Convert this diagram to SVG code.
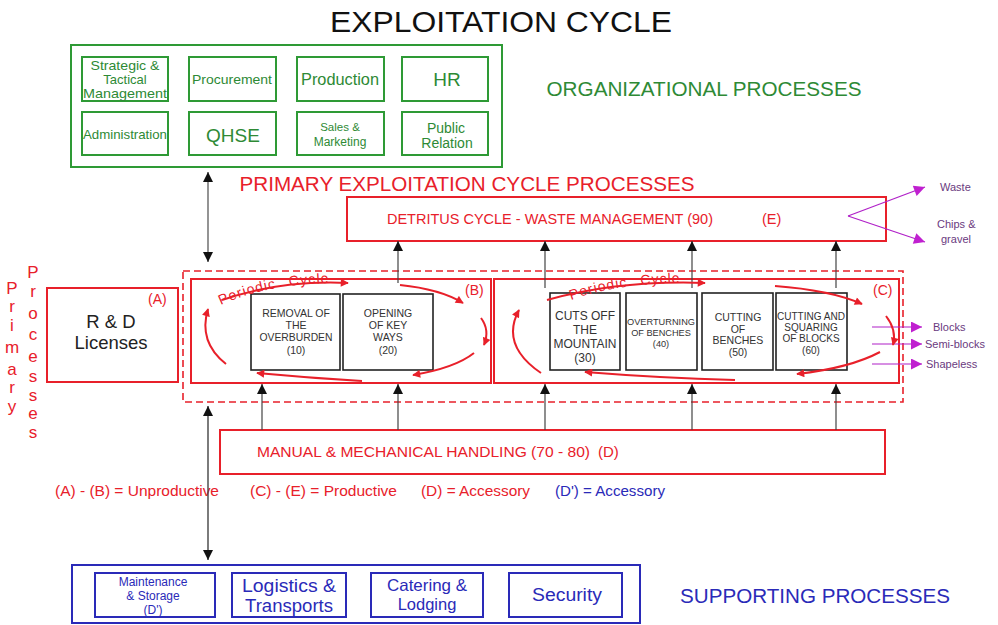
<svg xmlns="http://www.w3.org/2000/svg" width="998" height="625" viewBox="0 0 998 625">
<style>
  text { font-family: "Liberation Sans", Arial, sans-serif; }
  .g { fill: none; stroke: #2e9a35; stroke-width: 2; }
  .gt { fill: #2e8a35; text-anchor: middle; }
  .r { fill: none; stroke: #e8202a; stroke-width: 2; }
  .rd { fill: none; stroke: #e8202a; stroke-width: 1.6; stroke-dasharray: 7 4; }
  .rt { fill: #e8202a; }
  .b { fill: none; stroke: #2a2ab8; stroke-width: 2; }
  .bt { fill: #2a2ab8; text-anchor: middle; }
  .k { fill: #ffffff; stroke: #222222; stroke-width: 1.6; }
  .kt { fill: #333333; text-anchor: middle; }
  .ln { stroke: #444444; stroke-width: 1.2; fill: none; }
  .cyc { fill: none; stroke: #e8202a; stroke-width: 2; marker-end: url(#rh); }
  .mg { stroke: #b020c8; stroke-width: 1.2; fill: none; marker-end: url(#mh); }
  .mt { fill: #6a3a80; font-size: 11px; }
  .pc { font-size: 14px; fill: #e8202a; letter-spacing: 1px; word-spacing: 8px; }
</style>
<defs>
  <marker id="kh" viewBox="0 0 10 10" refX="10" refY="5" markerWidth="10" markerHeight="12" markerUnits="userSpaceOnUse" orient="auto">
    <path d="M0,0 L10,5 L0,10 Z" fill="#111111"/>
  </marker>
  <marker id="kh2" viewBox="0 0 10 10" refX="10" refY="5" markerWidth="10" markerHeight="12" markerUnits="userSpaceOnUse" orient="auto-start-reverse">
    <path d="M0,0 L10,5 L0,10 Z" fill="#111111"/>
  </marker>
  <marker id="rh" viewBox="0 0 10 10" refX="9" refY="5" markerWidth="9" markerHeight="8" markerUnits="userSpaceOnUse" orient="auto">
    <path d="M0,0 L10,5 L0,10 Z" fill="#e8202a"/>
  </marker>
  <marker id="mh" viewBox="0 0 10 10" refX="10" refY="5" markerWidth="14" markerHeight="11" markerUnits="userSpaceOnUse" orient="auto">
    <path d="M0,0 L10,5 L0,10 Z" fill="#c020d0"/>
  </marker>
  <path id="pcB" d="M221,305 Q275,280 360,283"/>
  <path id="pcC" d="M571,300 Q625,280 715,283"/>
</defs>

<rect width="998" height="625" fill="#ffffff"/>

<text x="501" y="32" font-size="30" text-anchor="middle" fill="#111111" textLength="342" lengthAdjust="spacingAndGlyphs">EXPLOITATION CYCLE</text>

<!-- organizational processes -->
<g id="organizational">
  <rect class="g" x="71" y="45" width="431" height="122"/>
  <text x="704" y="96" font-size="20" fill="#2e8a35" text-anchor="middle" textLength="315" lengthAdjust="spacingAndGlyphs">ORGANIZATIONAL PROCESSES</text>
  <g id="strategic"><rect class="g" x="82" y="57" width="86" height="44"/>
    <text class="gt" font-size="13" x="125" y="70" textLength="69" lengthAdjust="spacingAndGlyphs">Strategic &amp;</text>
    <text class="gt" font-size="13" x="125" y="84">Tactical</text>
    <text class="gt" font-size="13" x="125" y="98" textLength="84" lengthAdjust="spacingAndGlyphs">Management</text></g>
  <g id="procurement"><rect class="g" x="189" y="57" width="87" height="44"/>
    <text class="gt" font-size="13" x="232" y="84" textLength="80" lengthAdjust="spacingAndGlyphs">Procurement</text></g>
  <g id="production"><rect class="g" x="297" y="57" width="87" height="44"/>
    <text class="gt" font-size="16" x="340" y="85" textLength="78" lengthAdjust="spacingAndGlyphs">Production</text></g>
  <g id="hr"><rect class="g" x="402" y="57" width="86" height="44"/>
    <text class="gt" font-size="19" x="447" y="86">HR</text></g>
  <g id="administration"><rect class="g" x="82" y="112" width="86" height="43"/>
    <text class="gt" font-size="13" x="125" y="139" textLength="84" lengthAdjust="spacingAndGlyphs">Administration</text></g>
  <g id="qhse"><rect class="g" x="189" y="112" width="87" height="43"/>
    <text class="gt" font-size="19" x="233" y="142">QHSE</text></g>
  <g id="sales"><rect class="g" x="297" y="112" width="87" height="43"/>
    <text class="gt" font-size="11.5" x="340" y="131">Sales &amp;</text>
    <text class="gt" font-size="12" x="340" y="146">Marketing</text></g>
  <g id="public-relation"><rect class="g" x="402" y="112" width="86" height="43"/>
    <text class="gt" font-size="14" x="446" y="133">Public</text>
    <text class="gt" font-size="14" x="447" y="148">Relation</text></g>
</g>

<text x="467" y="191" font-size="20" class="rt" text-anchor="middle" textLength="455" lengthAdjust="spacingAndGlyphs">PRIMARY EXPLOITATION CYCLE PROCESSES</text>

<!-- vertical label -->
<g id="primary-processes" class="rt" font-size="17" text-anchor="middle">
  <text x="12" y="294">P</text><text x="12" y="312">r</text><text x="12" y="331">i</text>
  <text x="12" y="353">m</text><text x="12" y="375">a</text><text x="12" y="393">r</text><text x="12" y="412">y</text>
  <text x="33" y="278">P</text><text x="33" y="297">r</text><text x="33" y="319">o</text>
  <text x="33" y="340">c</text><text x="33" y="362">e</text><text x="33" y="382">s</text>
  <text x="33" y="401">s</text><text x="33" y="419">e</text><text x="33" y="438">s</text>
</g>

<!-- detritus cycle -->
<g id="detritus">
  <rect class="r" x="347" y="197" width="539" height="44"/>
  <text x="387" y="224" font-size="14.5" class="rt" textLength="326" lengthAdjust="spacingAndGlyphs">DETRITUS CYCLE - WASTE MANAGEMENT (90)</text>
  <text x="762" y="224" font-size="14.5" class="rt">(E)</text>
</g>

<!-- R & D -->
<g id="rd">
  <rect class="r" x="47" y="288" width="131" height="94"/>
  <text x="148" y="304" font-size="14" class="rt">(A)</text>
  <text x="111" y="328" font-size="18.5" fill="#222222" text-anchor="middle">R &amp; D</text>
  <text x="111" y="349" font-size="18.5" fill="#222222" text-anchor="middle">Licenses</text>
</g>

<!-- cycle frame -->
<rect class="rd" x="183" y="271" width="720" height="131"/>

<!-- unproductive cycle B -->
<g id="cycle-b">
  <rect class="r" x="191" y="279" width="300" height="104"/>
  <text x="465" y="295" font-size="14" class="rt">(B)</text>
</g>
<g id="removal"><rect class="k" x="251" y="294" width="89" height="76"/>
  <text class="kt" font-size="10.5" x="296" y="317">REMOVAL OF</text>
  <text class="kt" font-size="10.5" x="296" y="329">THE</text>
  <text class="kt" font-size="10.5" x="296" y="341" textLength="73" lengthAdjust="spacingAndGlyphs">OVERBURDEN</text>
  <text class="kt" font-size="10.5" x="296" y="354">(10)</text></g>
<g id="opening"><rect class="k" x="343" y="294" width="90" height="76"/>
  <text class="kt" font-size="10.5" x="388" y="317">OPENING</text>
  <text class="kt" font-size="10.5" x="388" y="329">OF KEY</text>
  <text class="kt" font-size="10.5" x="388" y="341">WAYS</text>
  <text class="kt" font-size="10.5" x="388" y="354">(20)</text></g>
<text class="pc"><textPath href="#pcB">Periodic Cycle</textPath></text>

<!-- productive cycle C -->
<g id="cycle-c">
  <rect class="r" x="494" y="279" width="405" height="104"/>
  <text x="873" y="295" font-size="14" class="rt">(C)</text>
</g>
<g id="cuts-off"><rect class="k" x="550" y="293" width="70" height="77"/>
  <text class="kt" font-size="12" x="585" y="320">CUTS OFF</text>
  <text class="kt" font-size="12" x="585" y="334">THE</text>
  <text class="kt" font-size="12" x="585" y="348" textLength="63" lengthAdjust="spacingAndGlyphs">MOUNTAIN</text>
  <text class="kt" font-size="12" x="585" y="362">(30)</text></g>
<g id="overturning"><rect class="k" x="626" y="293" width="71" height="77"/>
  <text class="kt" font-size="9.2" x="661" y="325" textLength="68" lengthAdjust="spacingAndGlyphs">OVERTURNING</text>
  <text class="kt" font-size="9.2" x="661" y="336">OF BENCHES</text>
  <text class="kt" font-size="9.2" x="661" y="347">(40)</text></g>
<g id="cutting"><rect class="k" x="702" y="293" width="71" height="77"/>
  <text class="kt" font-size="10.5" x="738" y="321">CUTTING</text>
  <text class="kt" font-size="10.5" x="738" y="333">OF</text>
  <text class="kt" font-size="10.5" x="738" y="344">BENCHES</text>
  <text class="kt" font-size="10.5" x="738" y="356">(50)</text></g>
<g id="squaring"><rect class="k" x="776" y="293" width="71" height="77"/>
  <text class="kt" font-size="10" x="811" y="320" textLength="68" lengthAdjust="spacingAndGlyphs">CUTTING AND</text>
  <text class="kt" font-size="10" x="811" y="331">SQUARING</text>
  <text class="kt" font-size="10" x="811" y="342">OF BLOCKS</text>
  <text class="kt" font-size="10" x="811" y="354">(60)</text></g>
<text class="pc"><textPath href="#pcC">Periodic Cycle</textPath></text>

<!-- manual handling -->
<g id="handling">
  <rect class="r" x="220" y="430" width="665" height="44"/>
  <text x="257" y="457" font-size="15" class="rt" textLength="333" lengthAdjust="spacingAndGlyphs">MANUAL &amp; MECHANICAL HANDLING (70 - 80)</text>
  <text x="598" y="457" font-size="15" class="rt">(D)</text>
</g>

<!-- legend -->
<g id="legend" font-size="14.5">
  <text x="55" y="496" class="rt" textLength="164" lengthAdjust="spacingAndGlyphs">(A) - (B) = Unproductive</text>
  <text x="250" y="496" class="rt" textLength="147" lengthAdjust="spacingAndGlyphs">(C) - (E) = Productive</text>
  <text x="421" y="496" class="rt" textLength="109" lengthAdjust="spacingAndGlyphs">(D) = Accessory</text>
  <text x="555" y="496" fill="#2a2ab8" textLength="110" lengthAdjust="spacingAndGlyphs">(D') = Accessory</text>
</g>

<!-- supporting processes -->
<g id="supporting">
  <rect class="b" x="72" y="565" width="568" height="58"/>
  <text x="815" y="603" font-size="20.5" fill="#2a2ab8" text-anchor="middle" textLength="270" lengthAdjust="spacingAndGlyphs">SUPPORTING PROCESSES</text>
  <g id="maintenance"><rect class="b" x="95" y="573" width="120" height="44"/>
    <text class="bt" font-size="12" x="153" y="586">Maintenance</text>
    <text class="bt" font-size="12" x="153" y="600">&amp; Storage</text>
    <text class="bt" font-size="12" x="153" y="614">(D')</text></g>
  <g id="logistics"><rect class="b" x="232" y="573" width="114" height="44"/>
    <text class="bt" font-size="17.5" x="289" y="592" textLength="94" lengthAdjust="spacingAndGlyphs">Logistics &amp;</text>
    <text class="bt" font-size="17.5" x="289" y="612" textLength="88" lengthAdjust="spacingAndGlyphs">Transports</text></g>
  <g id="catering"><rect class="b" x="371" y="573" width="112" height="44"/>
    <text class="bt" font-size="16.5" x="427" y="591" textLength="80" lengthAdjust="spacingAndGlyphs">Catering &amp;</text>
    <text class="bt" font-size="16.5" x="427" y="610">Lodging</text></g>
  <g id="security"><rect class="b" x="509" y="573" width="113" height="44"/>
    <text class="bt" font-size="18" x="567" y="601" textLength="70" lengthAdjust="spacingAndGlyphs">Security</text></g>
</g>

<!-- outputs -->
<g id="outputs">
  <text class="mt" x="940" y="191">Waste</text>
  <text class="mt" x="937" y="228">Chips &amp;</text>
  <text class="mt" x="941" y="243">gravel</text>
  <text class="mt" x="933" y="331">Blocks</text>
  <text class="mt" x="925" y="348">Semi-blocks</text>
  <text class="mt" x="926" y="368">Shapeless</text>
</g>

<!-- connectors -->
<g id="connectors">
  <!-- organisation / primary / support links -->
  <path d="M208,172 L208,262" stroke="#666666" stroke-width="1.4" fill="none" marker-start="url(#kh2)" marker-end="url(#kh2)"/>
  <path d="M208,406 L208,560" stroke="#444444" stroke-width="1.4" fill="none" marker-start="url(#kh2)" marker-end="url(#kh2)"/>
  <!-- into detritus cycle -->
  <path class="ln" d="M398,283 L398,241" marker-end="url(#kh)"/>
  <path class="ln" d="M545,288 L545,241" marker-end="url(#kh)"/>
  <path class="ln" d="M692,288 L692,241" marker-end="url(#kh)"/>
  <path class="ln" d="M836,288 L836,241" marker-end="url(#kh)"/>
  <!-- from handling -->
  <path class="ln" d="M262,430 L262,384" marker-end="url(#kh)"/>
  <path class="ln" d="M398,430 L398,384" marker-end="url(#kh)"/>
  <path class="ln" d="M545,430 L545,384" marker-end="url(#kh)"/>
  <path class="ln" d="M692,430 L692,384" marker-end="url(#kh)"/>
  <path class="ln" d="M836,430 L836,384" marker-end="url(#kh)"/>
  <!-- waste outputs -->
  <path class="mg" d="M848,216 L925,187"/>
  <path class="mg" d="M848,216 L925,242"/>
  <!-- block outputs -->
  <path class="mg" d="M872,327 L922,327"/>
  <path class="mg" d="M872,344 L922,344"/>
  <path class="mg" d="M872,364 L922,364"/>
  <!-- periodic cycle B -->
  <path class="cyc" d="M222,300 Q280,280 348,283"/>
  <path class="cyc" d="M400,285 Q440,289 463,303"/>
  <path class="cyc" d="M481,318 Q490,330 484,345"/>
  <path class="cyc" d="M474,353 Q455,368 413,375"/>
  <path class="cyc" d="M362,381 Q310,378 257,373"/>
  <path class="cyc" d="M226,364 Q198,342 208,309"/>
  <!-- periodic cycle C -->
  <path class="cyc" d="M547,300 Q620,280 705,283"/>
  <path class="cyc" d="M775,286 Q830,290 862,304"/>
  <path class="cyc" d="M886,316 Q897,330 893,345"/>
  <path class="cyc" d="M880,352 Q850,368 797,374"/>
  <path class="cyc" d="M735,380 Q660,378 585,372"/>
  <path class="cyc" d="M541,373 Q500,345 519,310"/>
</g>
</svg>
